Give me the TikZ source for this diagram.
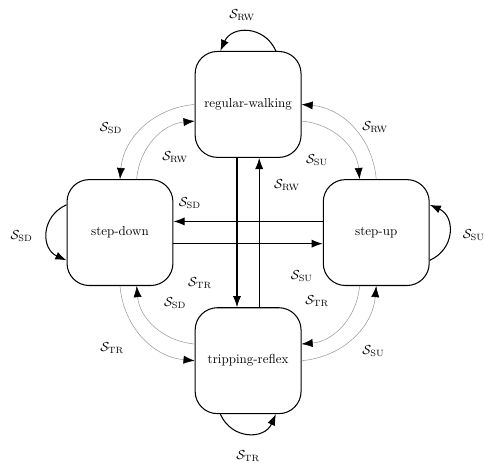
\documentclass[tikz,border=0pt]{standalone}
\usepackage{amssymb, amsmath}
\usetikzlibrary{positioning, arrows.meta}

\begin{document}
\begin{tikzpicture}[
  >={Latex[length=3mm, width=2.2mm]},
  node distance=3.46cm and 3.46cm, on grid,
  state/.style = {align=center, rectangle, rounded corners=0.6cm, draw, thick, minimum width=2.86cm, minimum height=2.86cm, inner sep=2pt},
  lbl/.style   = {inner sep=1pt},
  trans/.style = {->, thick},
  side/.style  = {-{Latex[length=3mm, width=2.2mm, color=black]}, draw=gray!80, line width=0.4pt},
  self/.style  = {->, thick, looseness=1.3},
]
  \useasboundingbox (-6.70,-6.22) rectangle (6.37,6.28);
  \node[state]                    (rw) at (0,3.46) {regular-walking};
  \node[state, below left=of rw]  (sd) {step-down};
  \node[state, below right=of rw] (su) {step-up};
  \node[state, below right=of sd] (tr) {tripping-reflex};

  \draw[self] ([xshift=0.75cm]rw.north) to[out=114, in=66]
        node[lbl, midway, shift={(-0.16,0.46)}] (l-rw-rw) {$\mathcal{S}_{\mathrm{RW}}$} ([xshift=-0.75cm]rw.north);
  \draw[self] ([yshift=0.75cm]sd.west) to[out=204, in=156]
        node[lbl, midway, shift={(-0.69,-0.09)}] (l-sd-sd) {$\mathcal{S}_{\mathrm{SD}}$} ([yshift=-0.75cm]sd.west);
  \draw[self] ([yshift=-0.75cm]su.east) to[out=24, in=-24]
        node[lbl, midway, shift={(0.67,-0.07)}] (l-su-su) {$\mathcal{S}_{\mathrm{SU}}$} ([yshift=0.75cm]su.east);
  \draw[self] ([xshift=-0.75cm]tr.south) to[out=294, in=246]
        node[lbl, midway, shift={(0,-0.60)}] (l-tr-tr) {$\mathcal{S}_{\mathrm{TR}}$} ([xshift=0.75cm]tr.south);

  \draw[trans] ([xshift=-0.3cm]rw.south) -- node[lbl, pos=0.84, xshift=-1.0cm] (l-rw-tr) {$\mathcal{S}_{\mathrm{TR}}$} ([xshift=-0.3cm]tr.north);
  \draw[trans] ([xshift=0.3cm]tr.north) -- node[lbl, pos=0.82, xshift=0.75cm] (l-tr-rw) {$\mathcal{S}_{\mathrm{RW}}$} ([xshift=0.3cm]rw.south);
  \draw[trans] ([yshift=0.3cm]su.west) -- node[lbl, pos=0.89, yshift=0.5cm] (l-su-sd) {$\mathcal{S}_{\mathrm{SD}}$} ([yshift=0.3cm]sd.east);
  \draw[trans] ([yshift=-0.3cm]sd.east) -- node[lbl, pos=0.86, yshift=-0.87cm] (l-sd-su) {$\mathcal{S}_{\mathrm{SU}}$} ([yshift=-0.3cm]su.west);

  \draw[side] (rw.west) to[bend right=40]
        node[lbl, midway, shift={(-0.87,-0.01)}] (l-rw-sd) {$\mathcal{S}_{\mathrm{SD}}$} (sd.north);
  \draw[side] ([xshift=0.45cm]sd.north) to[bend left=40]
        node[lbl, midway, shift={(0.55,-0.48)}] (l-sd-rw) {$\mathcal{S}_{\mathrm{RW}}$} ([yshift=-0.45cm]rw.west);
  \draw[side] (su.north) to[bend right=40]
        node[lbl, midway, shift={(0.60,0.02)}] (l-su-rw) {$\mathcal{S}_{\mathrm{RW}}$} (rw.east);
  \draw[side] ([yshift=-0.45cm]rw.east) to[bend left=40]
        node[lbl, midway, shift={(-0.66,-0.56)}] (l-rw-su) {$\mathcal{S}_{\mathrm{SU}}$} ([xshift=-0.45cm]su.north);
  \draw[side] (sd.south) to[bend right=40]
        node[lbl, midway, shift={(-0.84,-0.29)}] (l-sd-tr) {$\mathcal{S}_{\mathrm{TR}}$} (tr.west);
  \draw[side] ([yshift=0.45cm]tr.west) to[bend left=40]
        node[lbl, midway, shift={(0.55,0.62)}] (l-tr-sd) {$\mathcal{S}_{\mathrm{SD}}$} ([xshift=0.45cm]sd.south);
  \draw[side] (tr.east) to[bend right=40]
        node[lbl, midway, shift={(0.55,-0.37)}] (l-tr-su) {$\mathcal{S}_{\mathrm{SU}}$} (su.south);
  \draw[side] ([xshift=-0.45cm]su.south) to[bend left=40]
        node[lbl, midway, shift={(-0.66,0.67)}] (l-su-tr) {$\mathcal{S}_{\mathrm{TR}}$} ([yshift=0.45cm]tr.east);
\end{tikzpicture}
\end{document}
